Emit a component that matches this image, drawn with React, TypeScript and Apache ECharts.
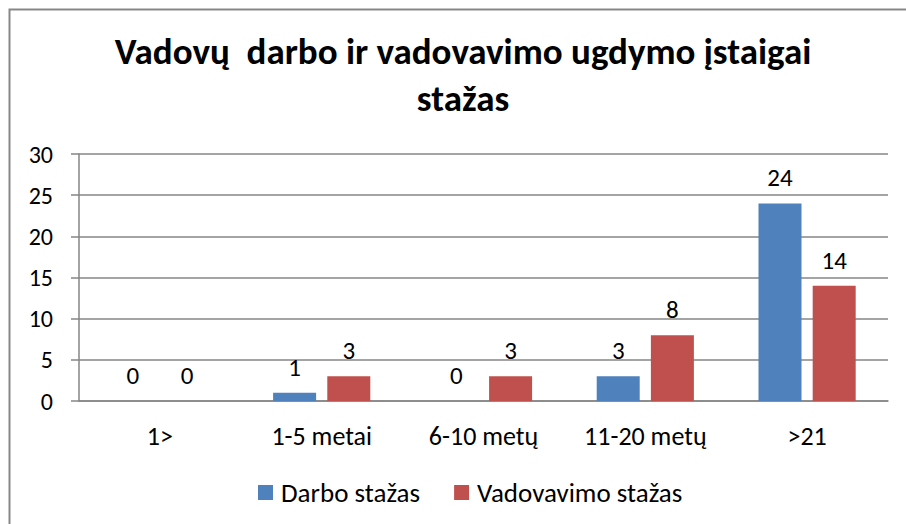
import React, { useEffect, useRef } from "react";
import * as echarts from "echarts";

const categories = ["1>", "1-5 metai", "6-10 metų", "11-20 metų", ">21"];
const darboStazas = [0, 1, 0, 3, 24];
const vadovavimoStazas = [0, 3, 3, 8, 14];
const seriesNames = ["Darbo stažas", "Vadovavimo stažas"];
const titleText = "Vadovų  darbo ir vadovavimo ugdymo įstaigai\nstažas";

const FONT = "Carlito, Lato, 'Noto Sans', sans-serif";

export default function App() {
  const ref = useRef<HTMLDivElement>(null);
  useEffect(() => {
    document.body.style.margin = "0";
    const chart = echarts.init(ref.current!, null, { renderer: "svg" });
    const label = {
      show: true,
      position: "top" as const,
      distance: 13,
      fontSize: 25,
      color: "#000",
      fontFamily: FONT,
    };
    chart.setOption({
      animation: false,
      backgroundColor: "#fff",
      textStyle: { fontFamily: FONT },
      graphic: [
        {
          type: "rect",
          shape: { x: 9.5, y: 9.5, width: 920, height: 540 },
          style: { fill: "none", stroke: "#878787", lineWidth: 2 },
          silent: true,
          z: -10,
        },
        {
          type: "text",
          x: 463,
          y: 28,
          silent: true,
          style: {
            text: titleText,
            align: "center",
            verticalAlign: "top",
            fontFamily: FONT,
            fontSize: 37,
            fontWeight: "bold",
            fill: "#000",
            lineHeight: 47,
          },
        },
      ],
      legend: {
        data: seriesNames,
        left: 258,
        top: 479,
        padding: 0,
        itemWidth: 15,
        itemHeight: 15,
        itemGap: 34,
        icon: "rect",
        textStyle: { fontSize: 27, color: "#000", fontFamily: FONT, padding: [0, 0, 0, 3] },
      },
      grid: { left: 79, right: 18, top: 154, bottom: 123, containLabel: false },
      xAxis: {
        type: "category",
        data: categories,
        axisLine: { lineStyle: { color: "#868686", width: 1.5 } },
        axisTick: { show: false },
        axisLabel: { fontSize: 26, color: "#000", margin: 22, fontFamily: FONT },
      },
      yAxis: {
        type: "value",
        min: 0,
        max: 30,
        interval: 5,
        axisLine: { show: true, lineStyle: { color: "#868686", width: 1.5 } },
        axisTick: { show: true, length: 8, lineStyle: { color: "#868686", width: 1.5 } },
        splitLine: { lineStyle: { color: "#868686", width: 1.5 } },
        axisLabel: { fontSize: 24, color: "#000", margin: 26, fontFamily: FONT },
      },
      series: [
        {
          name: seriesNames[0],
          type: "bar",
          data: darboStazas,
          barWidth: 43,
          barGap: "26%",
          itemStyle: { color: "#4F81BD" },
          label,
        },
        {
          name: seriesNames[1],
          type: "bar",
          data: vadovavimoStazas,
          barWidth: 43,
          itemStyle: { color: "#C0504D" },
          label,
        },
      ],
    });
    return () => chart.dispose();
  }, []);
  return <div ref={ref} style={{ width: 906, height: 524 }} />;
}
